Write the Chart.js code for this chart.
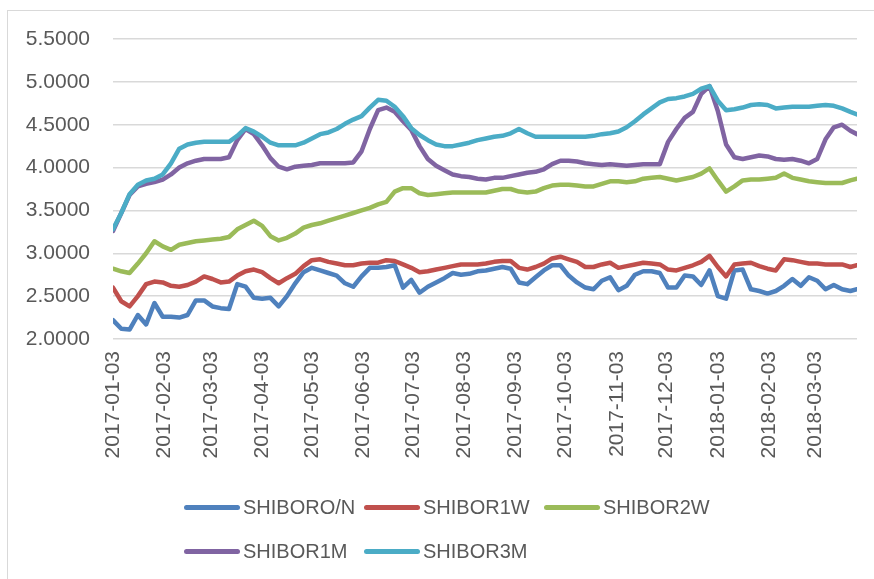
<!DOCTYPE html>
<html>
<head>
<meta charset="utf-8">
<script src="https://cdn.jsdelivr.net/npm/chart.js@4.4.1/dist/chart.umd.min.js"></script>
<style>
html,body{margin:0;padding:0;background:#fff;overflow:hidden}
#wrap{position:relative;width:874px;height:579px;overflow:hidden}
#frame{position:absolute;left:7px;top:10px;width:900px;height:600px;border:1px solid #d9d9d9}
#chart{position:absolute;left:0;top:0}
#legend{position:absolute;left:184px;top:485px;display:grid;grid-template-columns:repeat(3,180px);grid-auto-rows:44px;font:20px 'Liberation Sans',Arial,sans-serif;color:#595959}
#legend .it{display:flex;align-items:center;white-space:nowrap}
#legend .ln{display:inline-block;width:56px;height:5px;border-radius:3px;margin-right:3px}
</style>
</head>
<body>
<div id="wrap"><div id="frame"></div><canvas id="chart" width="874" height="579"></canvas><div id="legend"></div></div>
<script>
const dates = [
  '2017-01-03','2017-01-08','2017-01-13','2017-01-18','2017-01-23','2017-01-28',
  '2017-02-02','2017-02-07','2017-02-12','2017-02-17','2017-02-22','2017-02-27',
  '2017-03-04','2017-03-09','2017-03-14','2017-03-19','2017-03-24','2017-03-29',
  '2017-04-03','2017-04-08','2017-04-13','2017-04-18','2017-04-23','2017-04-28',
  '2017-05-03','2017-05-08','2017-05-13','2017-05-18','2017-05-23','2017-05-28',
  '2017-06-02','2017-06-07','2017-06-12','2017-06-17','2017-06-22','2017-06-27',
  '2017-07-02','2017-07-07','2017-07-12','2017-07-17','2017-07-22','2017-07-27',
  '2017-08-01','2017-08-06','2017-08-11','2017-08-16','2017-08-21',
  '2017-08-26','2017-08-31',
  '2017-09-05','2017-09-10','2017-09-15','2017-09-20','2017-09-25','2017-09-30',
  '2017-10-05','2017-10-10','2017-10-15','2017-10-20','2017-10-25','2017-10-30',
  '2017-11-04','2017-11-09','2017-11-14','2017-11-19','2017-11-24','2017-11-29',
  '2017-12-04','2017-12-09','2017-12-14',
  '2017-12-19','2017-12-24','2017-12-29',
  '2018-01-03','2018-01-08','2018-01-13','2018-01-18','2018-01-23','2018-01-28',
  '2018-02-02','2018-02-07','2018-02-12','2018-02-17','2018-02-22','2018-02-27',
  '2018-03-04','2018-03-09','2018-03-14','2018-03-19','2018-03-24','2018-03-28'
];
const tickDates = ['2017-01-03','2017-02-03','2017-03-03','2017-04-03','2017-05-03','2017-06-03','2017-07-03',
  '2017-08-03','2017-09-03','2017-10-03','2017-11-03','2017-12-03','2018-01-03','2018-02-03','2018-03-03'];

const shiborON = [
  2.22,2.12,2.11,2.28,2.17,2.42,2.26,2.26,2.25,2.28,2.45,2.45,2.38,2.36,2.35,2.64,2.61,2.48,2.47,2.48,2.38,2.50,2.65,2.78,
  2.83,2.80,2.77,2.74,2.65,2.61,2.73,2.83,2.83,2.84,2.86,2.60,2.69,2.54,2.61,2.66,2.71,2.77,2.75,2.76,2.79,2.80,2.82,
  2.84,2.82,2.66,2.64,2.72,2.80,2.86,2.86,2.74,2.66,2.60,2.58,2.68,2.72,2.57,2.62,2.75,2.79,2.79,2.77,2.60,2.60,2.74,
  2.73,2.63,2.80,2.50,2.47,2.80,2.81,2.58,2.56,2.53,2.56,2.62,2.70,2.62,2.72,2.68,2.58,2.63,2.58,2.56,2.58
];
const shibor1W = [
  2.60,2.44,2.38,2.50,2.64,2.67,2.66,2.62,2.61,2.63,2.67,2.73,2.70,2.66,2.67,2.74,2.79,2.81,2.78,2.71,2.65,2.71,2.76,2.85,
  2.92,2.93,2.90,2.88,2.86,2.86,2.88,2.89,2.89,2.92,2.91,2.87,2.83,2.78,2.79,2.81,2.83,2.85,2.87,2.87,2.87,2.88,2.90,
  2.91,2.91,2.83,2.81,2.84,2.88,2.94,2.96,2.93,2.90,2.84,2.84,2.87,2.89,2.83,2.85,2.87,2.89,2.88,2.87,2.81,2.80,2.83,
  2.86,2.90,2.97,2.84,2.73,2.87,2.88,2.89,2.85,2.82,2.80,2.93,2.92,2.90,2.88,2.88,2.87,2.87,2.87,2.84,2.86
];
const shibor2W = [
  2.82,2.79,2.77,2.88,3.00,3.14,3.08,3.04,3.10,3.12,3.14,3.15,3.16,3.17,3.19,3.28,3.33,3.38,3.32,3.20,3.15,3.18,3.23,3.30,
  3.33,3.35,3.38,3.41,3.44,3.47,3.50,3.53,3.57,3.60,3.72,3.76,3.76,3.70,3.68,3.69,3.70,3.71,3.71,3.71,3.71,3.71,3.73,
  3.75,3.75,3.72,3.71,3.72,3.76,3.79,3.80,3.80,3.79,3.78,3.78,3.81,3.84,3.84,3.83,3.84,3.87,3.88,3.89,3.87,3.85,3.87,
  3.89,3.93,3.99,3.85,3.72,3.78,3.85,3.86,3.86,3.87,3.88,3.93,3.88,3.86,3.84,3.83,3.82,3.82,3.82,3.85,3.87
];
const shibor1M = [
  3.26,3.47,3.68,3.78,3.81,3.83,3.86,3.92,4.00,4.05,4.08,4.10,4.10,4.10,4.12,4.32,4.45,4.39,4.26,4.11,4.01,3.98,4.01,4.02,
  4.03,4.05,4.05,4.05,4.05,4.06,4.19,4.45,4.67,4.70,4.65,4.54,4.44,4.25,4.10,4.02,3.97,3.92,3.90,3.89,3.87,3.86,3.88,
  3.88,3.90,3.92,3.94,3.95,3.98,4.04,4.08,4.08,4.07,4.05,4.04,4.03,4.04,4.03,4.02,4.03,4.04,4.04,4.04,4.30,4.45,4.58,
  4.65,4.86,4.95,4.66,4.27,4.12,4.10,4.12,4.14,4.13,4.10,4.09,4.10,4.08,4.05,4.10,4.33,4.47,4.50,4.43,4.39
];
const shibor3M = [
  3.28,3.47,3.69,3.80,3.85,3.87,3.92,4.05,4.22,4.27,4.29,4.30,4.30,4.30,4.30,4.37,4.46,4.42,4.36,4.29,4.26,4.26,4.26,4.29,
  4.34,4.39,4.41,4.45,4.51,4.56,4.60,4.70,4.79,4.78,4.71,4.60,4.46,4.38,4.32,4.27,4.25,4.25,4.27,4.29,4.32,4.34,4.36,
  4.37,4.40,4.45,4.40,4.36,4.36,4.36,4.36,4.36,4.36,4.36,4.37,4.39,4.40,4.42,4.47,4.54,4.62,4.69,4.76,4.80,4.81,4.83,
  4.86,4.92,4.95,4.78,4.67,4.68,4.70,4.73,4.74,4.73,4.69,4.70,4.71,4.71,4.71,4.72,4.73,4.72,4.69,4.65,4.62
];
const seriesNames = ['SHIBORO/N','SHIBOR1W','SHIBOR2W','SHIBOR1M','SHIBOR3M'];
const seriesColors = ['#4F81BD','#C0504D','#9BBB59','#8064A2','#4BACC6'];
const seriesValues = [shiborON, shibor1W, shibor2W, shibor1M, shibor3M];

// x axis works on days since the first date, like a date axis in excel
const day0 = Date.UTC(2017,0,3);
function dayOf(s){const p=s.split('-');return Math.round((Date.UTC(+p[0],p[1]-1,+p[2])-day0)/864e5)}
const xs = dates.map(dayOf);
const tickXs = tickDates.map(dayOf);

const font = {family:"'Liberation Sans', Arial, sans-serif", size:21};
const datasets = seriesValues.map((vals,i)=>({
  label: seriesNames[i],
  data: vals.map((v,j)=>({x:xs[j],y:v})),
  borderColor: seriesColors[i], backgroundColor: seriesColors[i],
  borderWidth: 4.5, pointRadius: 0, tension: 0,
  borderCapStyle:'round', borderJoinStyle:'round',
  order: seriesValues.length-1-i   // later series sit on top, like excel
}));

const chart = new Chart(document.getElementById('chart'),{
  type:'line',
  data:{datasets},
  options:{
    responsive:false, animation:false, devicePixelRatio:1,
    layout:{padding:{top:39,right:17,bottom:110,left:0}},
    plugins:{legend:{display:false},tooltip:{enabled:false}},
    scales:{
      x:{type:'linear',min:xs[0],max:xs[xs.length-1],
        grid:{display:false,drawTicks:false},border:{display:false},
        afterBuildTicks:(s)=>{s.ticks=tickXs.map(v=>({value:v}))},
        afterFit:(s)=>{s.height=130},
        ticks:{autoSkip:false,minRotation:90,maxRotation:90,padding:12,color:'#595959',font,
          callback:(v,i)=>tickDates[i]}},
      y:{min:2,max:5.5,
        grid:{color:'#d9d9d9',lineWidth:1.5,drawTicks:false},border:{display:false},
        afterFit:(s)=>{s.width=113},
        ticks:{stepSize:0.5,padding:23,color:'#595959',font,callback:(v)=>Number(v).toFixed(4)}}
    }
  }
});

// legend laid out in equal columns as excel does
const lg = document.getElementById('legend');
chart.data.datasets.forEach(d=>{
  const it = document.createElement('div'); it.className='it';
  const ln = document.createElement('span'); ln.className='ln'; ln.style.background=d.borderColor;
  const tx = document.createElement('span'); tx.textContent=d.label;
  it.appendChild(ln); it.appendChild(tx); lg.appendChild(it);
});
</script>
</body>
</html>
